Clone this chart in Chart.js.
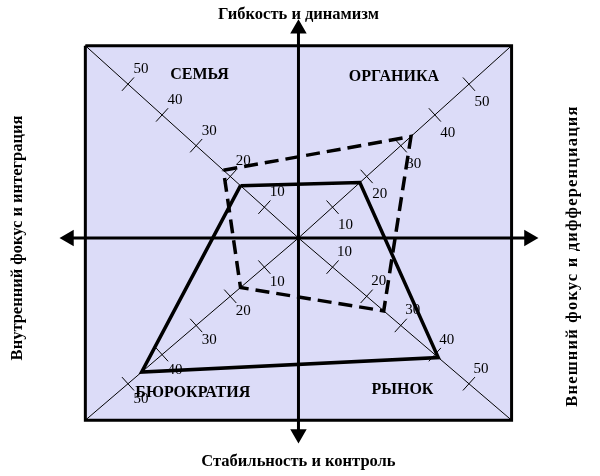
<!DOCTYPE html>
<html>
<head>
<meta charset="utf-8">
<script src="https://cdn.jsdelivr.net/npm/chart.js@4.4.1/dist/chart.umd.min.js"></script>
<style>
  body { margin: 0; background: #fff; }
  #wrap { width: 600px; height: 476px; position: relative; }
</style>
</head>
<body>
<div id="wrap"><canvas id="mycanvas"></canvas></div>
<script>
// quadrants in order: top-left, top-right, bottom-right, bottom-left
var quadrants = ['СЕМЬЯ', 'ОРГАНИКА', 'РЫНОК', 'БЮРОКРАТИЯ'];
var solidValues = [17, 18, 41, 46];
var dashedValues = [22, 33, 25, 17];
var tickValues = [10, 20, 30, 40, 50];
var tickLabels = ['10', '20', '30', '40', '50'];
var axisTitles = ['Гибкость и динамизм', 'Стабильность и контроль',
                  'Внутренний фокус и интеграция', 'Внешний фокус и дифференциация'];

// direction of each diagonal
var dirX = [-1, 1, 1, -1];
var dirY = [1, 1, -1, -1];
var boxEdge = 62.5;

// y scale whose upper and lower halves have different pixel steps (the cross is off-centre)
var LinearScale = Chart.registry.getScale('linear');
class SplitScale extends LinearScale {
	getPixelForValue(value) {
		var zero = this.top + (this.bottom - this.top) * this.options.zeroAt;
		if (value >= 0) return zero - (zero - this.top) * value / this.max;
		return zero + (this.bottom - zero) * value / this.min;
	}
	getValueForPixel(pixel) {
		var zero = this.top + (this.bottom - this.top) * this.options.zeroAt;
		if (pixel <= zero) return (zero - pixel) / (zero - this.top) * this.max;
		return (pixel - zero) / (this.bottom - zero) * this.min;
	}
}
SplitScale.id = 'split';
SplitScale.defaults = LinearScale.defaults;
Chart.register(SplitScale);

function polygon(values)
{
	var pts = values.map(function(v, i) { return {x: dirX[i] * v, y: dirY[i] * v}; });
	pts.push(pts[0]);
	return pts;
}

var tickRotation = [-48, 48, -48, 48];
var labelDx = [13, 13, 12, 13];
var labelDy = [-15, 18, -15, 15];
var namePos = [[-29, 53], [28, 52.5], [30.5, -52], [-31, -53]];

var datasets = [];

datasets.push({
	label: 'solid', data: polygon(solidValues), order: 1,
	borderColor: '#000', borderWidth: 3.5, borderJoinStyle: 'miter', pointRadius: 0
});
datasets.push({
	label: 'dashed', data: polygon(dashedValues), order: 2,
	borderColor: '#000', borderWidth: 3.5, borderDash: [14, 7], borderJoinStyle: 'miter', pointRadius: 0
});

quadrants.forEach(function(q, i) {
	datasets.push({
		label: 'ticks' + i, order: 5, showLine: false,
		data: tickValues.map(function(t) { return {x: dirX[i] * t, y: dirY[i] * t}; }),
		pointStyle: 'line', pointRadius: 9, pointRotation: tickRotation[i],
		pointBorderColor: '#000', pointBorderWidth: 1,
		tickLabels: tickLabels, labelDx: labelDx[i], labelDy: labelDy[i]
	});
});

// axes with arrow heads
datasets.push({
	label: 'vaxis', order: 6, data: [{x: 0, y: -67.2}, {x: 0, y: 68}],
	borderColor: '#000', borderWidth: 3,
	pointStyle: 'triangle', pointRadius: 6.5, pointRotation: [180, 0],
	pointBackgroundColor: '#000', pointBorderColor: '#000'
});
datasets.push({
	label: 'haxis', order: 6, data: [{x: -67.3, y: 0}, {x: 67.6, y: 0}],
	borderColor: '#000', borderWidth: 3,
	pointStyle: 'triangle', pointRadius: 6.5, pointRotation: [270, 90],
	pointBackgroundColor: '#000', pointBorderColor: '#000'
});

// diagonals
datasets.push({
	label: 'diag1', order: 7,
	data: [{x: -boxEdge, y: boxEdge}, {x: 0, y: 0}, {x: boxEdge, y: -boxEdge}],
	borderColor: '#000', borderWidth: 1, pointRadius: 0
});
datasets.push({
	label: 'diag2', order: 7,
	data: [{x: -boxEdge, y: -boxEdge}, {x: 0, y: 0}, {x: boxEdge, y: boxEdge}],
	borderColor: '#000', borderWidth: 1, pointRadius: 0
});

// box frame and fill
datasets.push({
	label: 'frame', order: 8,
	data: [{x: -boxEdge, y: boxEdge}, {x: boxEdge, y: boxEdge}, {x: boxEdge, y: -boxEdge},
	       {x: -boxEdge, y: -boxEdge}, {x: -boxEdge, y: boxEdge}],
	borderColor: '#000', borderWidth: 3, borderJoinStyle: 'miter', pointRadius: 0
});
datasets.push({
	label: 'fill', order: 9,
	data: [{x: -boxEdge, y: boxEdge}, {x: boxEdge, y: boxEdge}],
	borderWidth: 0, pointRadius: 0,
	fill: {value: -boxEdge}, backgroundColor: '#dcdcf8'
});

var textPlugin = {
	id: 'texts',
	afterDatasetsDraw: function(chart)
	{
		var ctx = chart.ctx;
		var xs = chart.scales.x, ys = chart.scales.y;
		ctx.save();
		ctx.fillStyle = '#000';
		ctx.textAlign = 'center';
		ctx.textBaseline = 'middle';

		ctx.font = '15px "Liberation Serif"';
		chart.data.datasets.forEach(function(ds, i) {
			if (!ds.tickLabels) return;
			chart.getDatasetMeta(i).data.forEach(function(pt, j) {
				ctx.fillText(ds.tickLabels[j], pt.x + ds.labelDx, pt.y + ds.labelDy);
			});
		});

		ctx.font = 'bold 16px "Liberation Serif"';
		quadrants.forEach(function(q, i) {
			ctx.fillText(q, xs.getPixelForValue(namePos[i][0]), ys.getPixelForValue(namePos[i][1]));
		});

		ctx.font = 'bold 16.5px "Liberation Serif"';
		var cx = xs.getPixelForValue(0), cy = ys.getPixelForValue(0);
		ctx.fillText(axisTitles[0], cx, 15);
		ctx.fillText(axisTitles[1], cx, 462);
		ctx.save();
		ctx.translate(18, cy);
		ctx.rotate(-Math.PI / 2);
		ctx.fillText(axisTitles[2], 0, 0);
		ctx.restore();
		ctx.save();
		ctx.translate(573, 256);
		ctx.rotate(-Math.PI / 2);
		ctx.letterSpacing = '1.2px';
		ctx.fillText(axisTitles[3], 0, 0);
		ctx.restore();
		ctx.restore();
	}
};

var ctx = document.getElementById('mycanvas');
var chart = new Chart(ctx, {
	type: 'line',
	data: {datasets: datasets},
	options: {
		responsive: true,
		maintainAspectRatio: false,
		animation: false,
		events: [],
		layout: {padding: {left: 40, right: 40, top: 8, bottom: 24}},
		elements: {line: {tension: 0}, point: {radius: 0}},
		plugins: {legend: {display: false}, tooltip: {enabled: false}},
		scales: {
			x: {type: 'linear', min: -75.8, max: 76.7, display: false},
			y: {type: 'split', min: -73.4, max: 74.1, zeroAt: 0.5158, display: false}
		}
	},
	plugins: [textPlugin]
});
</script>
</body>
</html>
